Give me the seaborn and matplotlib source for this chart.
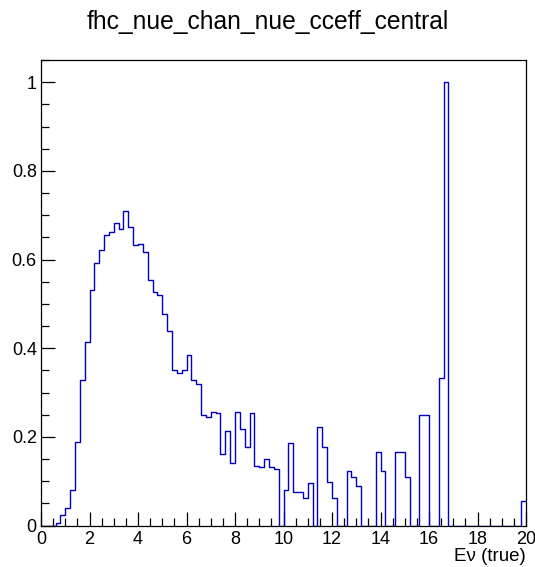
import numpy as np
import pandas as pd
import matplotlib
matplotlib.use("Agg")
import matplotlib.pyplot as plt
from matplotlib.ticker import MultipleLocator, FormatStrFormatter
import seaborn as sns

# ---- data (100 bins of width 0.2 on [0, 20]) ----
x_min, x_max = 0.0, 20.0
values = [
    0, 0, 0, 0.005, 0.023, 0.040, 0.079, 0.188, 0.329, 0.415,          # 0.0 - 2.0
    0.532, 0.592, 0.621, 0.656, 0.662, 0.683, 0.668, 0.710, 0.673, 0.632,  # 2.0 - 4.0
    0.636, 0.617, 0.553, 0.527, 0.520, 0.478, 0.438, 0.350, 0.345, 0.351,  # 4.0 - 6.0
    0.385, 0.328, 0.320, 0.249, 0.244, 0.255, 0.253, 0.161, 0.213, 0.142,  # 6.0 - 8.0
    0.255, 0.217, 0.178, 0.253, 0.134, 0.131, 0.150, 0.131, 0.128, 0,      # 8.0 - 10.0
    0.079, 0.186, 0.075, 0.075, 0.061, 0.095, 0, 0.222, 0.176, 0.099,      # 10.0 - 12.0
    0.061, 0, 0, 0.124, 0.110, 0.089, 0, 0, 0, 0.166,                      # 12.0 - 14.0
    0.124, 0, 0, 0.166, 0.166, 0.109, 0, 0, 0.249, 0.249,                  # 14.0 - 16.0
    0, 0, 0.332, 1.0, 0, 0, 0, 0, 0, 0,                                    # 16.0 - 18.0
    0, 0, 0, 0, 0, 0, 0, 0, 0, 0.056,                                      # 18.0 - 20.0
]
title = "fhc_nue_chan_nue_cceff_central"
x_label = "E\u03bd (true)"

n_bins = len(values)
edges = np.linspace(x_min, x_max, n_bins + 1)
centers = 0.5 * (edges[:-1] + edges[1:])
df = pd.DataFrame({"energy": centers, "weight": values})

sns.set_style("ticks")
plt.rcParams["font.family"] = ["Liberation Sans", "DejaVu Sans"]
plt.rcParams["text.color"] = "black"
plt.rcParams["axes.labelcolor"] = "black"
plt.rcParams["xtick.color"] = "black"
plt.rcParams["ytick.color"] = "black"

fig = plt.figure(figsize=(5.35, 5.67), dpi=100)
ax = fig.add_axes([41 / 535, 41.5 / 567, 485 / 535, 465.5 / 567])

sns.histplot(data=df, x="energy", weights="weight", bins=n_bins,
             binrange=(x_min, x_max),
             element="step", fill=False, color="#0000c8", linewidth=1.0, ax=ax)

ax.set_xlim(x_min, x_max)
ax.set_ylim(0, 1.05)
ax.set_ylabel("")
ax.set_xlabel(x_label, loc="right", fontsize=13.5, labelpad=0, color="black")

ax.xaxis.set_major_locator(MultipleLocator(2))
ax.xaxis.set_minor_locator(MultipleLocator(0.5))
ax.yaxis.set_major_locator(MultipleLocator(0.2))
ax.yaxis.set_minor_locator(MultipleLocator(0.05))
ax.yaxis.set_major_formatter(FormatStrFormatter("%g"))
ax.xaxis.set_major_formatter(FormatStrFormatter("%g"))

ax.tick_params(which="major", direction="in", length=10, width=0.9, colors="black",
               labelcolor="black", labelsize=13, top=False, right=False, pad=4)
ax.tick_params(which="minor", direction="in", length=5.5, width=0.9, colors="black",
               top=False, right=False)
ax.tick_params(axis="y", which="major", pad=3)

for s in ax.spines.values():
    s.set_visible(True)
    s.set_color("black")
    s.set_linewidth(0.9)

fig.text(0.5, 1 - 22 / 567, title, ha="center", va="center", fontsize=17.7, color="black")

fig.savefig("out.png", dpi=100, facecolor="white")
